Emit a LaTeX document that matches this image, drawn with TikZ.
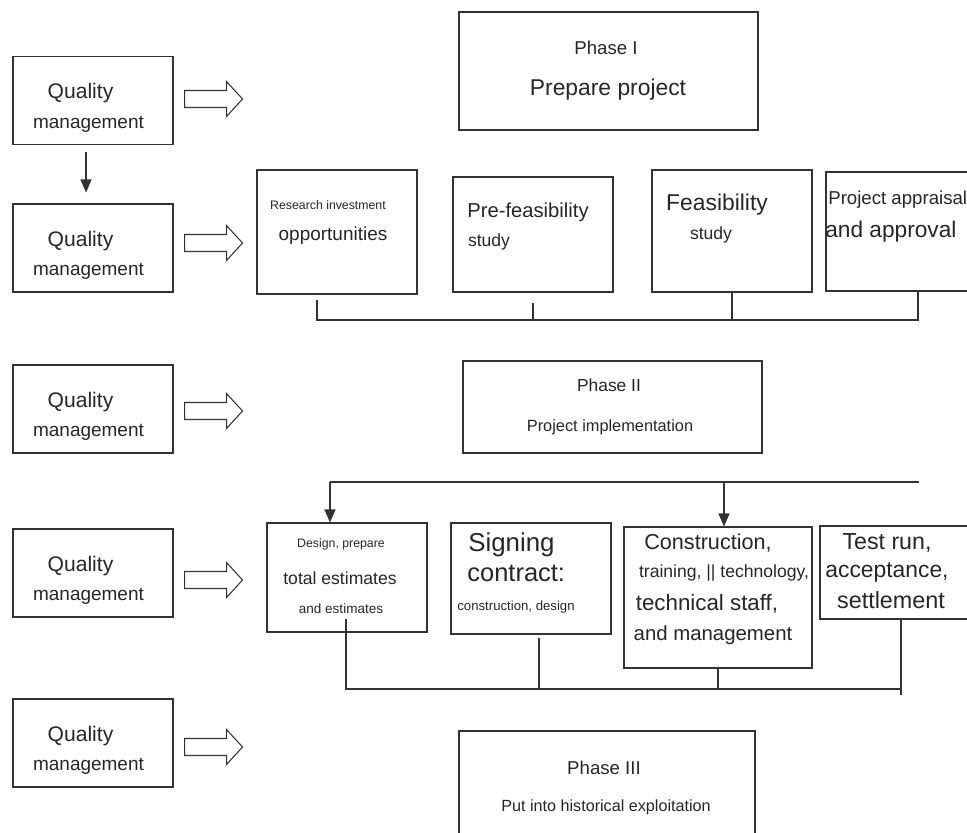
\documentclass[tikz,border=0pt]{standalone}
\usepackage{fontspec}
\setmainfont{Liberation Sans}
\usetikzlibrary{arrows.meta,calc,positioning}
\newcommand{\fs}[1]{\fontsize{#1}{#1}\selectfont}
\tikzset{box/.style={draw=black!80, line width=.6pt, inner sep=0pt}, txt/.style={inner sep=0pt, text=black!85}, link/.style={line width=.6pt, draw=black!80}, arr/.style={link, -{Triangle[length=2.6mm,width=2.2mm]}}, hollow/.style={draw=black!80, line width=.6pt}}

\begin{document}
\begin{tikzpicture}[x=0.2mm,y=-0.2mm]
\clip (0,0) rectangle (967,832);
% quality management column
\foreach \n/\y/\ay in {1/100.5/99,2/248/243,3/409/411,4/573/580,5/743/747}{
  \node[box, minimum width=32mm, minimum height=17.6mm] (qm\n) at (93,\y) {};
  \node[txt, font=\fs{12}] (qm\n-a) at ($(qm\n)+(-12.5,-7)$) {Quality};
  \node[txt, font=\fs{10.8}] (qm\n-b) at ($(qm\n)+(-4.5,23.5)$) {management};
  \draw[hollow] ($(qm\n.east)+(11,{\ay-\y})$) ++(0,-8.5) -- ++(42,0) -- ++(0,-9) -- ++(16,17.5) -- ++(-16,17.5) -- ++(0,-9) -- ++(-42,0) -- cycle;
}
\draw[arr] ($(qm1.south)+(-7,7)$) -- ($(qm2.north)+(-7,-11)$);
% phase I
\node[box, minimum width=59.8mm, minimum height=23.6mm] (ph1) at (608.5,71) {};
\node[txt, font=\fs{10.6}] (ph1-a) at (606,48) {Phase I};
\node[txt, font=\fs{13}] (ph1-b) at (608,90) {Prepare project};
% preparation steps
\node[box, minimum width=32mm, minimum height=24.8mm] (res) at (337,232) {};
\node[txt, font=\fs{7}] (res-a) at (328,205) {Research investment};
\node[txt, font=\fs{10.8}] (res-b) at (333,236) {opportunities};
\node[box, minimum width=32mm, minimum height=23mm] (pre) at (533,234.5) {};
\node[txt, font=\fs{11.5}] (pre-a) at (528,212) {Pre-feasibility};
\node[txt, font=\fs{10}] (pre-b) at (489,242) {study};
\node[box, minimum width=32mm, minimum height=24.4mm] (fea) at (732,231) {};
\node[txt, font=\fs{13}] (fea-a) at (717,205) {Feasibility};
\node[txt, font=\fs{10}] (fea-b) at (711,235) {study};
\node[box, minimum width=36.8mm, minimum height=23.8mm] (app) at (918,231.5) {};
\node[txt, font=\fs{10.6}, anchor=west] (app-a) at (828,200) {Project appraisal};
\node[txt, font=\fs{12.9}, anchor=west] (app-b) at (825,232) {and approval};
\coordinate (b2l) at (317,320);
\coordinate (b2r) at (918,320);
\draw[link] ($(res.south -| b2l)+(0,5)$) -- (b2l) -- (b2r) -- (app.south);
\draw[link] ($(pre.south)+(0,10)$) -- (pre.south |- b2l);
\draw[link] (fea.south) -- (fea.south |- b2l);
% phase II
\node[box, minimum width=59.8mm, minimum height=18.4mm] (ph2) at (612.5,407) {};
\node[txt, font=\fs{9.9}] (ph2-a) at (609,385) {Phase II};
\node[txt, font=\fs{9.3}] (ph2-b) at (610,427) {Project implementation};
% implementation steps
\node[box, minimum width=32mm, minimum height=21.8mm] (des) at (347,577.5) {};
\node[txt, font=\fs{7}] (des-a) at (341,544) {Design, prepare};
\node[txt, font=\fs{10}] (des-b) at (340,578) {total estimates};
\node[txt, font=\fs{7.7}] (des-c) at (341,609) {and estimates};
\node[box, minimum width=32mm, minimum height=22.2mm] (sig) at (531,578.5) {};
\node[txt, font=\fs{14.7}, anchor=west] (sig-a) at (468,545) {Signing};
\node[txt, font=\fs{14.5}, anchor=west] (sig-b) at (467,573) {contract:};
\node[txt, font=\fs{7.5}] (sig-c) at (516,607) {construction, design};
\node[box, minimum width=37.6mm, minimum height=28.2mm] (con) at (718,597.5) {};
\node[txt, font=\fs{12.3}] (con-a) at (708,543) {Construction,};
\node[txt, font=\fs{10}] (con-b) at (724,573) {training, || technology,};
\node[txt, font=\fs{12.7}] (con-c) at (707,604) {technical staff,};
\node[txt, font=\fs{11.6}] (con-d) at (713,635) {and management};
\node[box, minimum width=32.4mm, minimum height=18.6mm] (tst) at (901,572.5) {};
\node[txt, font=\fs{13.2}] (tst-a) at (887,543) {Test run,};
\node[txt, font=\fs{13}] (tst-b) at (887,572) {acceptance,};
\node[txt, font=\fs{13.3}] (tst-c) at (891,600) {settlement};
\coordinate (t4l) at (330,482);
\coordinate (t4m) at (724,482);
\coordinate (t4r) at (919,482);
\draw[link] (t4r) -- (t4l);
\draw[arr] (t4l) -- (t4l |- des.north);
\draw[arr] (t4m) -- (t4m |- con.north);
\coordinate (b4l) at (346,689);
\coordinate (b4r) at (901,689);
\draw[link] ($(des.south -| b4l)+(0,-14)$) -- (b4l) -- (b4r);
\draw[link] (tst.south) -- ($(b4r)+(0,6)$);
\draw[link] ($(sig.south)+(8,3)$) -- ($(sig.south |- b4l)+(8,0)$);
\draw[link] (con.south) -- (con.south |- b4l);
% phase III
\node[box, minimum width=59.2mm, minimum height=29.8mm] (ph3) at (607,805.5) {};
\node[txt, font=\fs{10.6}] (ph3-a) at (604,768) {Phase III};
\node[txt, font=\fs{9.2}] (ph3-b) at (606,807) {Put into historical exploitation};
\end{tikzpicture}
\end{document}
